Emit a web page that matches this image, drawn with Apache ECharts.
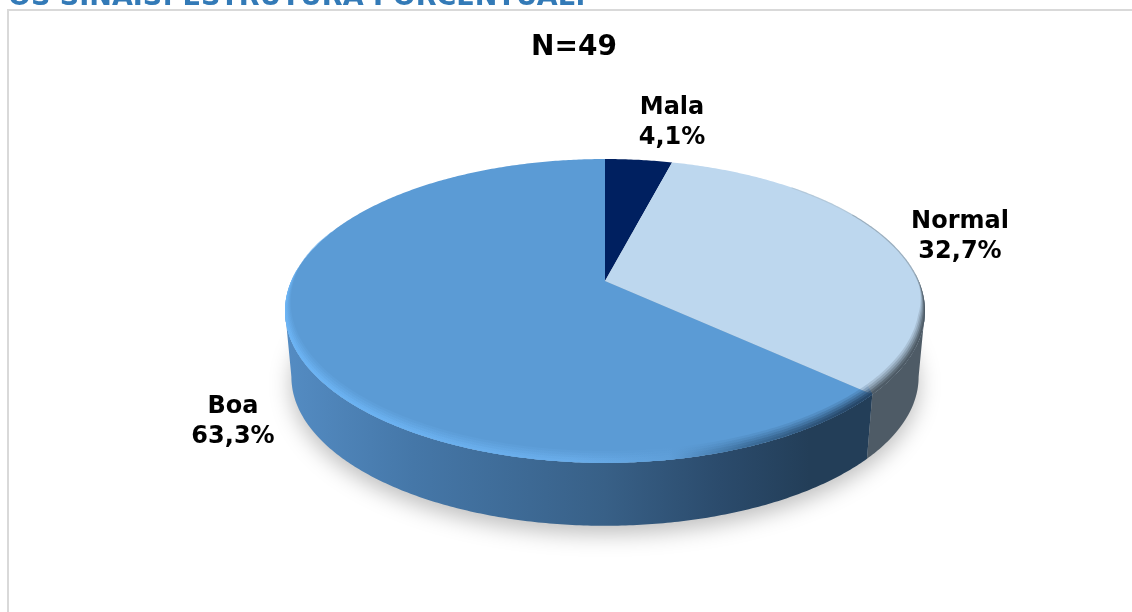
<!DOCTYPE html>
<html><head><meta charset="utf-8">
<style>html,body{margin:0;padding:0;background:#fff}#c{width:1132px;height:612px}</style>
<script src="https://cdn.jsdelivr.net/npm/echarts@6/dist/echarts.min.js"></script>
</head><body><div id="c"></div>
<script>
const categories = ['Mala', 'Normal', 'Boa'];
const values = [4.1, 32.7, 63.3];
const valueLabels = ['4,1%', '32,7%', '63,3%'];
const chartTitle = 'N=49';
const pageHeading = 'OS SINAIS: ESTRUTURA PORCENTUAL:';

const topColors = ['#002060', '#BDD7EE', '#5B9BD5'];
const view = {cx: 605, cy: 281, k: 0.197, A: 146, B: 313.7, depth: 66.6, shrink: 0.98};
const labelAnchors = [[672, 123], [960, 237], [233, 422]];
const total = values.reduce((a, b) => a + b, 0);
const starts = []; values.reduce((acc, v, i) => { starts[i] = acc; return acc + v; }, 0);
const theta = v => v / total * 2 * Math.PI;
const extRight = Math.acos(-view.k), extLeft = 2 * Math.PI - extRight;

function proj(t, r) {
  const X = Math.sin(t) * r, Y = Math.cos(t) * r, w = 1 + view.k * Y;
  return [view.cx + view.B * X / w, view.cy - view.A * Y / w];
}
function low(p) {
  return [view.cx + (p[0] - view.cx) * view.shrink,
          view.cy + view.depth + (p[1] - view.cy) * view.shrink];
}
function steps(a, b) {
  const n = Math.max(2, Math.ceil(Math.abs(b - a) / 0.01)), out = [];
  for (let i = 0; i <= n; i++) out.push(a + (b - a) * i / n);
  return out;
}
const arc = (a, b, r) => steps(a, b).map(t => proj(t, r));
const G = (stops) => new echarts.graphic.LinearGradient(285, 0, 925, 0, stops, true);

const sideFills = [
  () => '#1b2f52',
  () => '#4e5b66',
  () => G([{offset: 0, color: '#548cc3'}, {offset: .2, color: '#4577a8'}, {offset: .5, color: '#386087'},
           {offset: .68, color: '#2b4b6c'}, {offset: .82, color: '#233e58'}, {offset: 1, color: '#233e58'}])
];
const rimBoa = () => G([{offset: 0, color: '#6cb4f4'}, {offset: .45, color: '#69ace9'}, {offset: .6, color: '#5f9fd9'},
                        {offset: .72, color: '#3d6f9d'}, {offset: .88, color: '#27486a'}, {offset: 1, color: '#27486a'}]);
const rimNormal = () => '#4e5b66';
const bandLevels = [[1, .18], [.8, .25], [.6, .35], [.4, .6], [.2, 1]];

function band(a, b, sMax, fill, op, tapA, tapB) {
  const ts = steps(a, b), outer = ts.map(t => proj(t, 1));
  const inner = ts.map(t => {
    let f = 1;
    if (tapA && t < tapA[1]) f = Math.max(0, (t - tapA[0]) / (tapA[1] - tapA[0]));
    if (tapB && t > tapB[0]) f = Math.max(0, (tapB[1] - t) / (tapB[1] - tapB[0]));
    const s = sMax * f, p = proj(t, 1 - 0.017 * s);
    return [p[0], p[1] - 8 * s];
  });
  return {type: 'polygon', shape: {points: outer.concat(inner.reverse())}, style: {fill, opacity: op}};
}

function renderShadow(params) {
  if (params.dataIndex !== 0) return {type: 'group', children: []};
  const pts = arc(0, 2 * Math.PI, 1).map(low);
  return {type: 'polygon', shape: {points: pts},
    style: {fill: '#cfcfcf', shadowBlur: 22, shadowColor: 'rgba(0,0,0,0.26)', shadowOffsetY: 8, shadowOffsetX: 0}};
}
function renderSide(params, api) {
  const i = params.dataIndex;
  const a = Math.max(theta(starts[i]), extRight), b = Math.min(theta(starts[i]) + theta(api.value(0)), extLeft);
  if (b <= a) return {type: 'group', children: []};
  const top = arc(a, b, 1), bot = top.map(low).reverse();
  return {type: 'polygon', shape: {points: top.concat(bot)}, style: {fill: sideFills[i]()}};
}
function renderTop(params, api) {
  const i = params.dataIndex, a = theta(starts[i]), b = a + theta(api.value(0));
  const kids = [{type: 'polygon', shape: {points: [[view.cx, view.cy]].concat(arc(a, b, 1))}, style: {fill: topColors[i]}}];
  if (i === 2) {
    const e = Math.min(b, 5.1);
    bandLevels.forEach(([s, op]) => kids.push(band(a, e, s, rimBoa(), op, null, [4.7, 5.1])));
  }
  if (i === 1) {
    bandLevels.forEach(([s, op]) => kids.push(band(1.4, b, s, rimNormal(), op, [1.4, 1.85], null)));
    kids.push({type: 'polyline', shape: {points: arc(0.75, 1.05, 0.998)},
      style: {fill: null, stroke: '#a9bccc', lineWidth: 1.2, opacity: .6}});
    kids.push({type: 'polyline', shape: {points: arc(1.05, 1.6, 0.998)},
      style: {fill: null, stroke: '#8fa0ae', lineWidth: 1.2, opacity: .75}});
  }
  const [lx, ly] = labelAnchors[i];
  kids.push({type: 'text', z2: 20, style: {x: lx, y: ly, text: categories[i] + '\n' + valueLabels[i],
    fill: '#000', font: 'bold 24px "DejaVu Sans"', lineHeight: 30, align: 'center', verticalAlign: 'middle'}});
  return {type: 'group', children: kids};
}

const chart = echarts.init(document.getElementById('c'), null, {renderer: 'canvas'});
chart.setOption({
  animation: false,
  backgroundColor: '#fff',
  graphic: [
    {type: 'line', shape: {x1: 7, y1: 10, x2: 1132, y2: 10}, style: {stroke: '#d9d9d9', lineWidth: 2}},
    {type: 'line', shape: {x1: 8, y1: 9, x2: 8, y2: 612}, style: {stroke: '#d9d9d9', lineWidth: 2}},
    {type: 'text', x: 8, y: 11, style: {text: pageHeading, fill: '#337AB7', font: 'bold 27px "DejaVu Sans"', verticalAlign: 'bottom', align: 'left'}},
    {type: 'text', x: 574, y: 48, style: {text: chartTitle, fill: '#000', font: 'bold 28px "DejaVu Sans"', verticalAlign: 'middle', align: 'center'}}
  ],
  series: [
    {type: 'custom', coordinateSystem: 'none', silent: true, z: 1, renderItem: renderShadow, data: values},
    {type: 'custom', coordinateSystem: 'none', silent: true, z: 2, renderItem: renderSide, data: values},
    {type: 'custom', coordinateSystem: 'none', silent: true, z: 3, renderItem: renderTop, data: values}
  ]
});
</script></body></html>
